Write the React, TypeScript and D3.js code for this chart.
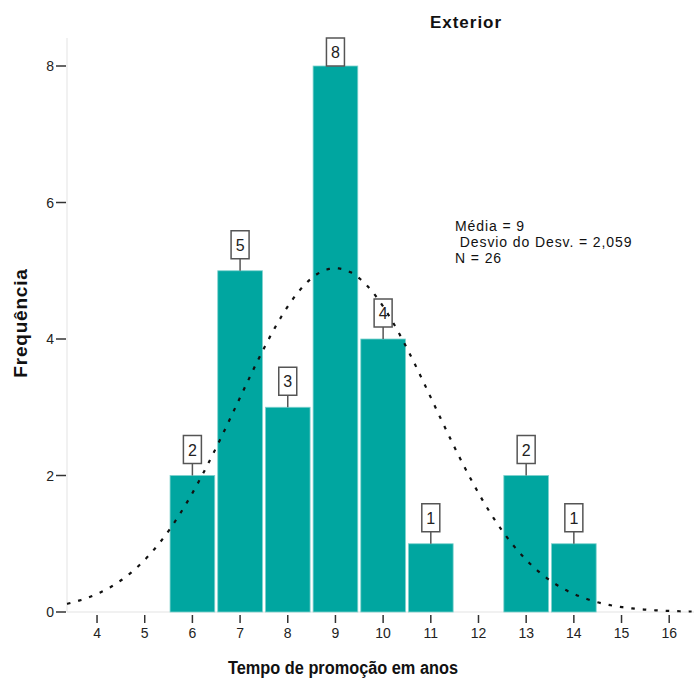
import React from 'react';
import * as d3 from 'd3';

// histogram data (Tempo de promoção em anos, Exterior)
const bins = [6, 7, 8, 9, 10, 11, 13, 14];
const counts = [2, 5, 3, 8, 4, 1, 2, 1];
const xTicks = [4, 5, 6, 7, 8, 9, 10, 11, 12, 13, 14, 15, 16];
const yTicks = [0, 2, 4, 6, 8];
const statLines = ['Média = 9', ' Desvio do Desv. = 2,059', 'N = 26'];
const mean = 9;
const sd = 2.059;
const n = 26;

const W = 694;
const H = 680;
const font = '"Liberation Sans", Arial, sans-serif';
const teal = '#00a6a0';

export default function App() {
  const plotTop = 38;
  const plotBottom = 612;
  const plotLeft = 67;
  const plotRight = 694;

  const x = d3.scaleLinear().domain([3.37, 16.52]).range([plotLeft, plotRight]);
  const y = d3.scaleLinear().domain([0, 8]).range([plotBottom, 66]);

  // fitted normal curve, scaled by n * bin width
  const pdf = (v: number) =>
    (n / (sd * Math.sqrt(2 * Math.PI))) * Math.exp(-0.5 * ((v - mean) / sd) ** 2);
  const curvePts = d3.range(3.37, 16.52, 0.05).map(v => [v, pdf(v)] as [number, number]);
  const line = d3
    .line<[number, number]>()
    .x(d => x(d[0]))
    .y(d => y(d[1]))
    .curve(d3.curveBasis);

  const unit = x(1) - x(0);
  const boxW = 18;
  const boxH = 28;

  return (
    <svg
      width={W}
      height={H}
      style={{ position: 'absolute', left: 0, top: 0, background: '#fff' }}
      fontFamily={font}
    >
      {/* title */}
      <text x={466} y={28} textAnchor="middle" fontWeight="bold" fontSize={17} letterSpacing={1} fill="#111">
        Exterior
      </text>

      {/* axis lines */}
      <line x1={plotLeft} x2={plotLeft} y1={plotTop} y2={plotBottom} stroke="#e3e3e3" />
      <line x1={plotLeft} x2={plotRight} y1={plotBottom} y2={plotBottom} stroke="#e3e3e3" />

      {/* bars */}
      {bins.map((b, i) => (
        <rect
          key={b}
          x={x(b - 0.5) + 1.5}
          y={y(counts[i])}
          width={unit - 3}
          height={plotBottom - y(counts[i])}
          fill={teal}
          stroke="#7fd2ce"
          strokeWidth={0.8}
        />
      ))}

      {/* bar labels */}
      {bins.map((b, i) => {
        const top = y(counts[i]);
        const boxTop = Math.max(top - 12 - boxH, plotTop);
        const cx = x(b);
        return (
          <g key={'l' + b}>
            <line x1={cx} x2={cx} y1={boxTop + boxH} y2={top} stroke="#555" strokeWidth={1.5} />
            <rect
              x={cx - boxW / 2}
              y={boxTop}
              width={boxW}
              height={boxH}
              fill="#fff"
              stroke="#555"
              strokeWidth={1.5}
            />
            <text x={cx} y={boxTop + boxH / 2 + 6} textAnchor="middle" fontSize={16} fill="#222">
              {counts[i]}
            </text>
          </g>
        );
      })}

      {/* normal curve */}
      <path
        d={line(curvePts) || ''}
        fill="none"
        stroke="#111"
        strokeWidth={2.2}
        strokeDasharray="3.5 8"
      />

      {/* y ticks */}
      {yTicks.map(t => (
        <g key={'y' + t}>
          <line x1={plotLeft - 11} x2={plotLeft - 1} y1={y(t)} y2={y(t)} stroke="#333" strokeWidth={1.5} />
          <text x={plotLeft - 13} y={y(t) + 5} textAnchor="end" fontSize={14} fill="#222">
            {t}
          </text>
        </g>
      ))}

      {/* x ticks */}
      {xTicks.map(t => (
        <g key={'x' + t}>
          <line x1={x(t)} x2={x(t)} y1={plotBottom + 3} y2={plotBottom + 11} stroke="#333" strokeWidth={1.5} />
          <text x={x(t)} y={plotBottom + 26} textAnchor="middle" fontSize={14} fill="#222">
            {t}
          </text>
        </g>
      ))}

      {/* stats legend */}
      {statLines.map((s, i) => (
        <text
          key={s}
          x={455}
          y={231 + i * 16}
          fontSize={14}
          letterSpacing={0.9}
          fill="#111"
          style={{ whiteSpace: 'pre' }}
        >
          {s}
        </text>
      ))}

      {/* axis titles */}
      <text
        x={343}
        y={674}
        textAnchor="middle"
        fontWeight="bold"
        fontSize={18}
        textLength={230}
        lengthAdjust="spacingAndGlyphs"
        fill="#111"
      >
        Tempo de promoção em anos
      </text>
      <text
        transform={`translate(27,323) rotate(-90)`}
        textAnchor="middle"
        fontWeight="bold"
        fontSize={19}
        letterSpacing={0.8}
        fill="#111"
      >
        Frequência
      </text>
    </svg>
  );
}
